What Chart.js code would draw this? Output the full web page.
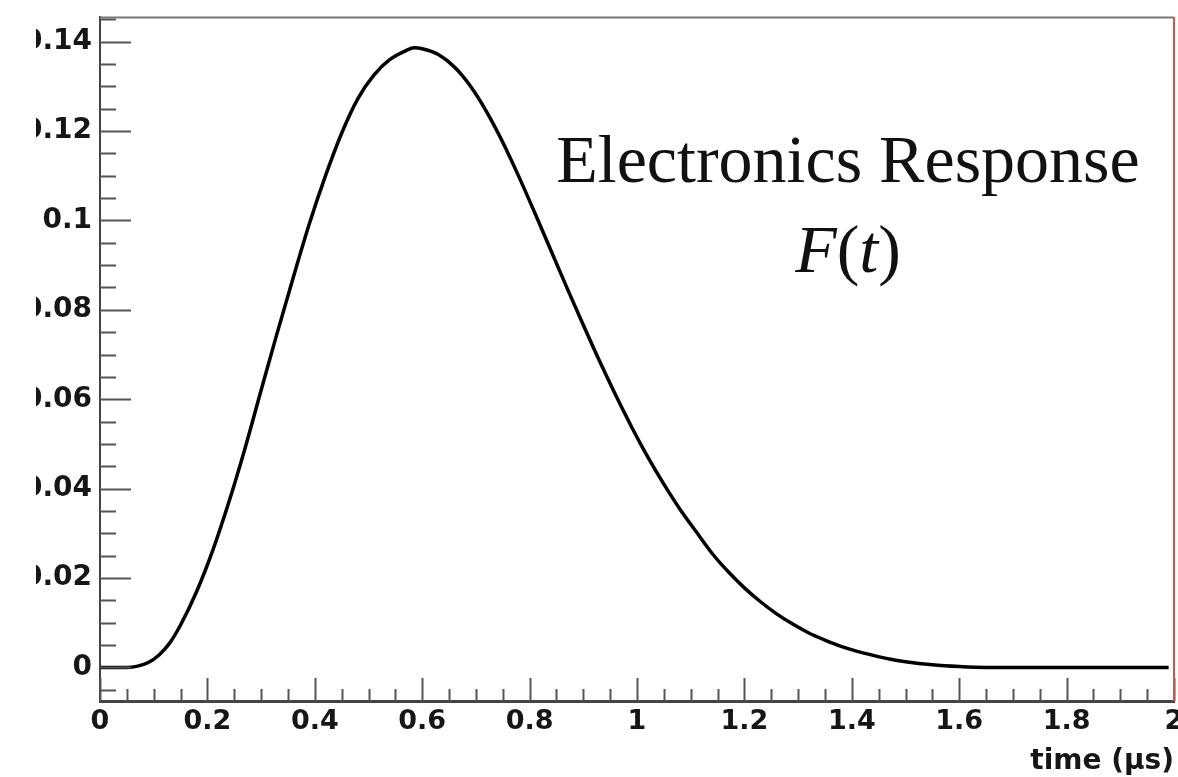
<!DOCTYPE html>
<html>
<head>
<meta charset="utf-8">
<script src="https://cdn.jsdelivr.net/npm/chart.js@4/dist/chart.umd.min.js"></script>
<style>
  html, body { margin: 0; padding: 0; background: #fff; }
  #wrap { position: absolute; left: 36px; top: 0; width: 1142px; height: 777px; }
</style>
</head>
<body>
<div id="wrap"><canvas id="resp"></canvas></div>
<script>
// electronics response F(t)
var timeUs = [0, 0.05, 0.07, 0.09, 0.11, 0.13, 0.15, 0.18, 0.21, 0.24, 0.27, 0.30, 0.328, 0.36,
  0.39, 0.42, 0.45, 0.48, 0.51, 0.54, 0.57, 0.585, 0.60, 0.63, 0.66, 0.69, 0.72, 0.75, 0.78,
  0.81, 0.84, 0.87, 0.90, 0.93, 0.96, 0.99, 1.02, 1.05, 1.08, 1.11, 1.14, 1.17, 1.20, 1.23,
  1.26, 1.29, 1.32, 1.35, 1.38, 1.41, 1.44, 1.47, 1.50, 1.55, 1.60, 1.65, 1.99];
var response = [0, 0, 0.0003, 0.0011, 0.0028, 0.0055, 0.0095, 0.0170, 0.0262, 0.0370, 0.0490,
  0.0620, 0.0740, 0.0873, 0.0993, 0.1100, 0.1195, 0.1272, 0.1325, 0.1360, 0.1380, 0.1386,
  0.1384, 0.1371, 0.1343, 0.1300, 0.1243, 0.1175, 0.1098, 0.1016, 0.0932, 0.0848, 0.0766,
  0.0686, 0.0610, 0.0538, 0.0471, 0.0410, 0.0354, 0.0304, 0.0255, 0.0214, 0.0178, 0.0147,
  0.0120, 0.0097, 0.0077, 0.0061, 0.0047, 0.0036, 0.0027, 0.0019, 0.0013, 0.0006, 0.0002, 0, 0];

var xTicks = [0, 0.2, 0.4, 0.6, 0.8, 1, 1.2, 1.4, 1.6, 1.8, 2];
var yTicks = [0, 0.02, 0.04, 0.06, 0.08, 0.1, 0.12, 0.14];
var xMinorStep = 0.05, yMinorStep = 0.005;

var points = timeUs.map(function (t, i) { return { x: t, y: response[i] }; });

function fmt(v) { return String(+v.toFixed(3)); }

// ROOT style frame: inward ticks, grey top line, red right edge, labels
var rootFrame = {
  id: "rootFrame",
  afterDatasetsDraw: function (chart) {
    var ctx = chart.ctx, a = chart.chartArea, x = chart.scales.x, y = chart.scales.y;
    ctx.save();
    ctx.strokeStyle = "#555";
    ctx.lineWidth = 2;
    ctx.beginPath();
    for (var i = 0; i * xMinorStep <= 2.0001; i++) {
      var px = Math.round(x.getPixelForValue(i * xMinorStep)) + 0.5;
      var len = i % 4 === 0 ? 23 : 12;
      ctx.moveTo(px, a.bottom);
      ctx.lineTo(px, a.bottom - len);
    }
    for (var j = -1; j * yMinorStep <= 0.1455; j++) {
      var py = Math.round(y.getPixelForValue(j * yMinorStep)) + 0.5;
      var ylen = j % 4 === 0 ? 31 : 16;
      ctx.moveTo(a.left, py);
      ctx.lineTo(a.left + ylen, py);
    }
    ctx.stroke();

    ctx.strokeStyle = "#777";
    ctx.beginPath();
    ctx.moveTo(a.left, a.top + 0.5);
    ctx.lineTo(a.right, a.top + 0.5);
    ctx.stroke();

    ctx.strokeStyle = "#cf5646";
    ctx.beginPath();
    ctx.moveTo(a.right, a.top);
    ctx.lineTo(a.right, a.bottom);
    ctx.stroke();

    // text (page x 848 -> canvas x 812)
    ctx.fillStyle = "#111";
    ctx.textBaseline = "alphabetic";
    ctx.textAlign = "center";
    ctx.font = '68px "Liberation Serif"';
    ctx.fillText("Electronics Response", 812, 182);

    var parts = [["F", "italic "], ["(", ""], ["t", "italic "], [")", ""]];
    var total = 0;
    parts.forEach(function (p) {
      ctx.font = p[1] + '68px "Liberation Serif"';
      p.push(ctx.measureText(p[0]).width);
      total += p[2];
    });
    var cx = 812 - total / 2;
    ctx.textAlign = "left";
    parts.forEach(function (p) {
      ctx.font = p[1] + '68px "Liberation Serif"';
      ctx.fillText(p[0], cx, 272);
      cx += p[2];
    });
    ctx.restore();
  }
};

new Chart(document.getElementById("resp"), {
  type: "line",
  data: {
    datasets: [{
      label: "F(t)",
      data: points,
      borderColor: "#000",
      borderWidth: 3.5,
      pointRadius: 0,
      cubicInterpolationMode: "monotone",
      fill: false
    }]
  },
  options: {
    responsive: true,
    maintainAspectRatio: false,
    animation: false,
    layout: { padding: { top: 17, right: 4, bottom: 0, left: 0 } },
    plugins: { legend: { display: false }, tooltip: { enabled: false } },
    scales: {
      x: {
        type: "linear",
        min: 0,
        max: 2,
        grid: { display: false, drawTicks: false },
        border: { display: true, color: "#444", width: 3 },
        afterBuildTicks: function (s) { s.ticks = xTicks.map(function (v) { return { value: v }; }); },
        afterFit: function (s) { s.height = 76; s.paddingLeft = 0; s.paddingRight = 0; },
        ticks: {
          padding: 5,
          maxRotation: 0,
          autoSkip: false,
          color: "#161616",
          font: { family: "DejaVu Sans", weight: "bold", size: 27 },
          callback: function (v) { return fmt(v); }
        },
        title: {
          display: true,
          text: "time (\u03bcs)",
          align: "end",
          color: "#161616",
          padding: { top: 0, bottom: 1 },
          font: { family: "DejaVu Sans", weight: "bold", size: 28, lineHeight: 1 }
        }
      },
      y: {
        min: -0.0075,
        max: 0.1455,
        grid: { display: false, drawTicks: false },
        border: { display: true, color: "#444", width: 2 },
        afterBuildTicks: function (s) { s.ticks = yTicks.map(function (v) { return { value: v }; }); },
        afterFit: function (s) { s.width = 64; s.paddingTop = 0; s.paddingBottom = 0; },
        ticks: {
          padding: 8,
          autoSkip: false,
          color: "#161616",
          font: { family: "DejaVu Sans", weight: "bold", size: 28 },
          callback: function (v) { return fmt(v); }
        }
      }
    }
  },
  plugins: [rootFrame]
});
</script>
</body>
</html>
